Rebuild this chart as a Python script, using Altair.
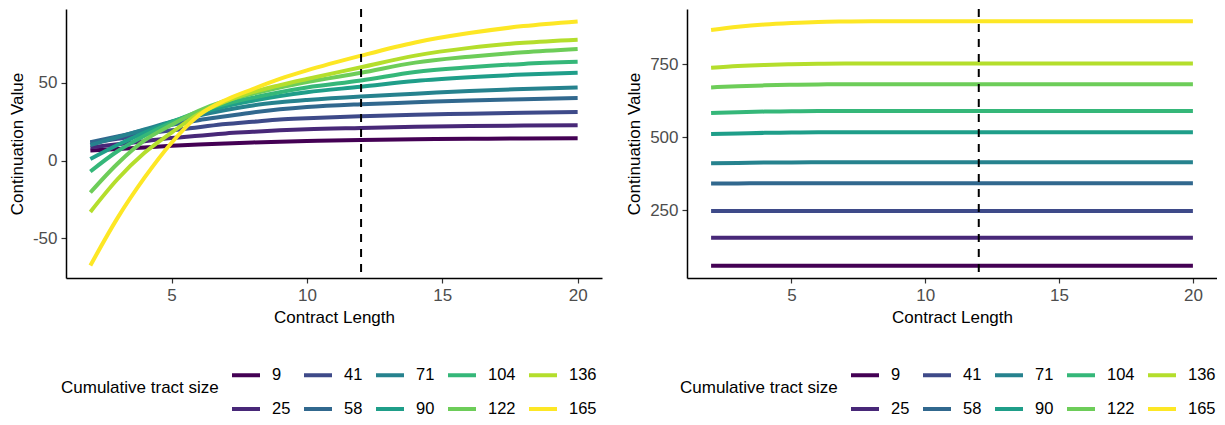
import altair as alt
import pandas as pd

contract_length = [2, 3, 4, 5, 6, 7, 8, 9, 10, 12, 14, 16, 18, 20]
tract_sizes = ["9", "25", "41", "58", "71", "90", "104", "122", "136", "165"]
viridis = ["#440154", "#482878", "#3E4A89", "#31688E", "#26828E",
           "#1F9E89", "#35B779", "#6DCD59", "#B4DE2C", "#FDE725"]

# Left panel: continuation value by contract length
left_9 = [6.5, 7.5, 8.5, 9.5, 10.3, 11, 11.7, 12.2, 12.6, 13.3, 13.8, 14, 14.2, 14.3]
left_25 = [8.5, 10.5, 12.5, 14.5, 16, 17.5, 18.5, 19.5, 20.2, 21, 21.7, 22.2, 22.5, 22.7]
left_41 = [11.5, 14, 17, 19.5, 21.5, 23.5, 25, 26.5, 27.3, 28.5, 29.5, 30.2, 30.8, 31.2]
left_58 = [11.8, 15.5, 19.5, 23, 26, 28.5, 31, 33, 34.5, 36.3, 37.5, 38.7, 39.5, 40.2]
left_71 = [10, 15, 20, 25, 29, 32.5, 35.5, 37.5, 39, 41.3, 43, 44.8, 46, 47]
left_90 = [1, 10, 18, 25, 30.5, 35, 38.5, 41.5, 44, 47.5, 51.2, 53.6, 55.3, 56.5]
left_104 = [-7, 6, 16, 24.5, 31.5, 36.5, 40.5, 44, 47, 51.5, 57, 60, 62.2, 63.5]
left_122 = [-20.5, -2, 13, 23, 32, 38.5, 43, 47, 50.5, 56.5, 63, 66.8, 69.7, 71.8]
left_136 = [-33, -12, 5, 18, 30, 38, 44, 48.5, 52.5, 60, 67.5, 72.5, 75.8, 77.8]
left_165 = [-67.5, -37, -11, 11.5, 29, 39, 46, 52.5, 58, 67.5, 76, 82, 86.5, 89.5]

# Right panel
right_9 = [59, 59, 59, 59, 59, 59, 59, 59, 59, 59, 59, 59, 59, 59]
right_25 = [155, 155, 155, 155, 155, 155, 155, 155, 155, 155, 155, 155, 155, 155]
right_41 = [247, 247, 247, 247, 247, 247, 247, 247, 247, 247, 247, 247, 247, 247]
right_58 = [341, 341.5, 342, 342, 342, 342, 342, 342, 342, 342, 342, 342, 342, 342]
right_71 = [411, 412, 413, 413.5, 414, 414, 414, 414, 414, 414, 414, 414, 414, 414]
right_90 = [511, 513, 515, 516, 517, 517, 517, 517, 517, 517, 517, 517, 517, 517]
right_104 = [583, 586, 588, 589, 590, 590, 590, 590, 590, 590, 590, 590, 590, 590]
right_122 = [671, 675, 678, 680, 681, 682, 682, 682, 682, 682, 682, 682, 682, 682]
right_136 = [738, 744, 748, 750.5, 752, 753, 753, 753, 753, 753, 753, 753, 753, 753]
right_165 = [868, 879, 887, 892, 895.5, 897, 898, 898, 898, 898, 898, 898, 898, 898]

left_series = [left_9, left_25, left_41, left_58, left_71, left_90, left_104, left_122, left_136, left_165]
right_series = [right_9, right_25, right_41, right_58, right_71, right_90, right_104, right_122, right_136, right_165]


def long_df(series):
    rows = []
    for size, vals in zip(tract_sizes, series):
        for x, v in zip(contract_length, vals):
            rows.append({"x": x, "value": v, "size": size})
    return pd.DataFrame(rows)


# legend order filled row-wise to mimic column-major ggplot legend
legend_order = ["9", "41", "71", "104", "136", "25", "58", "90", "122", "165"]
legend_colors = [viridis[tract_sizes.index(s)] for s in legend_order]

FONT = "Liberation Sans"


def panel(df, ydomain, yticks, width, legend_x):
    color = alt.Color(
        "size:N",
        scale=alt.Scale(domain=legend_order, range=legend_colors),
        legend=alt.Legend(
            title="Cumulative tract size",
            orient="none",
            legendX=legend_x,
            legendY=350,
            direction="horizontal",
            columns=5,
            titleOrient="left",
            titleAnchor="middle",
            titleBaseline="middle",
            titlePadding=11,
            titleFont=FONT,
            titleFontSize=17,
            titleFontWeight="normal",
            titleColor="black",
            labelFont=FONT,
            labelFontSize=16.5,
            labelColor="black",
            labelOffset=10,
            symbolType="stroke",
            symbolSize=784,
            symbolStrokeWidth=4,
            columnPadding=5,
            rowPadding=9,
        ),
    )
    x = alt.X(
        "x:Q",
        scale=alt.Scale(domain=[1.1, 20.9], nice=False, zero=False),
        axis=alt.Axis(values=[5, 10, 15, 20], title="Contract Length"),
    )
    y = alt.Y(
        "value:Q",
        scale=alt.Scale(domain=ydomain, nice=False, zero=False),
        axis=alt.Axis(values=yticks, title="Continuation Value",
                      labelExpr="'' + datum.value"),
    )
    lines = alt.Chart(df).mark_line(strokeWidth=4, interpolate="monotone").encode(
        x=x, y=y, color=color, detail="size:N"
    )
    rule = alt.Chart(pd.DataFrame({"x": [12]})).mark_rule(
        color="black", strokeWidth=2, strokeDash=[8, 7]
    ).encode(x="x:Q")
    return alt.layer(lines, rule).properties(width=width, height=269)


left = panel(long_df(left_series), [-75.5, 97.5], [-50, 0, 50], 536, -5)
right = panel(long_df(right_series), [17, 940], [250, 500, 750], 530, -7)

chart = (
    alt.hconcat(left, right, spacing=85, bounds="flush")
    .resolve_scale(color="independent", y="independent", x="independent")
    .properties(padding={"left": 0, "top": 0, "right": 0, "bottom": 0})
    .configure_view(stroke=None)
    .configure_axis(
        grid=False,
        domainColor="black",
        domainWidth=1.5,
        tickColor="#333333",
        tickWidth=1.2,
        tickSize=5,
        labelFont=FONT,
        labelFontSize=17,
        labelColor="#4D4D4D",
        labelPadding=4,
        titleFont=FONT,
        titleFontSize=17,
        titleFontWeight="normal",
        titleColor="black",
        titlePadding=6,
    )
)

chart.save("out.html", embed_options={"renderer": "svg", "actions": False})
